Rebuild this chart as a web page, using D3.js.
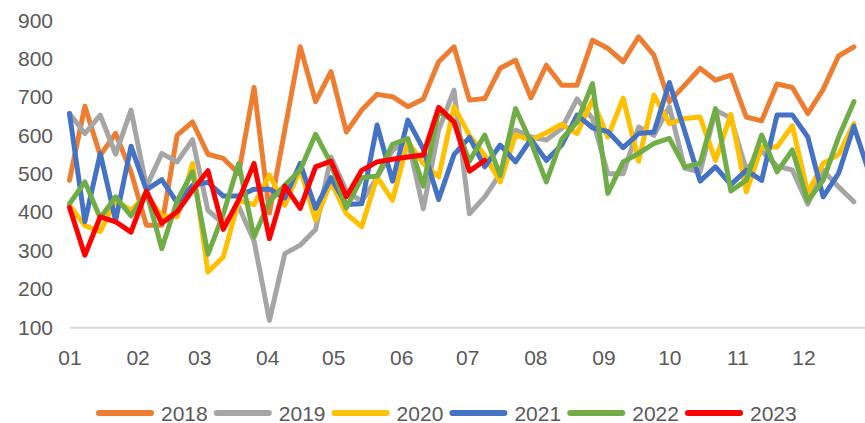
<!DOCTYPE html>
<html>
<head>
<meta charset="utf-8">
<script src="https://cdn.jsdelivr.net/npm/d3@7"></script>
<style>
    body { margin: 0; background: #fff; }
    text { font-family: "Liberation Sans", Arial, sans-serif; fill: #595959; }
</style>
</head>
<body>
<div id="chart"></div>
<script>
    var years = ['2018', '2019', '2020', '2021', '2022', '2023'];
    var colors = ['#ED7D31', '#A5A5A5', '#FFC000', '#4472C4', '#70AD47', '#FF0000'];
    var monthLabels = ['01', '02', '03', '04', '05', '06', '07', '08', '09', '10', '11', '12'];
    var monthStartDays = [0, 31, 59, 90, 120, 151, 181, 212, 243, 273, 304, 334];
    var yTicks = [100, 200, 300, 400, 500, 600, 700, 800, 900];

    // weekly values, one per week from the start of the year
    var s2018 = [483, 676, 548, 605, 505, 366, 366, 601, 635, 551, 540, 501, 725, 398, 615, 831, 688, 766, 609, 666,
        707, 701, 675, 695, 792, 831, 692, 696, 775, 796, 698, 783, 731, 731, 848, 827, 792, 857, 809, 688,
        731, 775, 744, 757, 648, 638, 734, 725, 657, 720, 807, 831];
    var s2019 = [657, 605, 653, 551, 666, 466, 553, 531, 589, 405, 370, 415, 325, 118, 292, 314, 355, 544, 455, 428,
        490, 561, 588, 409, 614, 718, 396, 440, 500, 614, 596, 588, 618, 695, 644, 500, 500, 622, 600, 675,
        514, 505, 666, 645, 510, 560, 520, 510, 421, 509, 466, 427];
    var s2020 = [418, 365, 350, 430, 405, 445, 390, 388, 527, 244, 283, 430, 420, 497, 418, 512, 379, 479, 396, 362,
        492, 431, 583, 527, 492, 675, 600, 548, 479, 601, 588, 607, 629, 605, 692, 596, 697, 533, 705, 631,
        644, 648, 535, 655, 453, 570, 570, 625, 450, 527, 550, 631];
    var s2021 = [657, 375, 553, 378, 572, 458, 485, 425, 470, 478, 442, 442, 460, 460, 437, 527, 410, 490, 420, 422,
        627, 481, 640, 565, 433, 550, 595, 518, 575, 531, 590, 535, 575, 653, 620, 610, 568, 605, 609, 738,
        611, 481, 518, 472, 509, 483, 653, 653, 596, 440, 501, 624, 501];
    var s2022 = [422, 479, 385, 440, 390, 453, 305, 430, 505, 290, 395, 527, 336, 428, 470, 510, 603, 527, 411, 490,
        494, 577, 592, 468, 664, 636, 533, 601, 496, 670, 583, 479, 590, 635, 735, 449, 531, 553, 579, 592,
        518, 527, 670, 455, 483, 601, 505, 562, 429, 483, 595, 688];
    var s2023 = [412, 288, 388, 375, 348, 455, 371, 401, 457, 508, 355, 432, 527, 331, 468, 410, 518, 533, 440, 509,
        531, 538, 544, 549, 673, 635, 507, 535];

    var series = [s2018, s2019, s2020, s2021, s2022, s2023];

    var width = 865;
    var height = 423;

    var x = d3.scaleLinear().domain([0, 365]).range([69.5, 871.5]);
    var y = d3.scaleLinear().domain([100, 900]).range([327.3, 20.3]);

    var svg = d3.select("#chart")
        .append("svg")
        .attr("width", width)
        .attr("height", height);

    // x axis (date-like, ticks at month starts)
    var gX = svg.append("g")
        .attr("transform", "translate(0," + y(100) + ")")
        .call(d3.axisBottom(x)
            .tickValues(monthStartDays)
            .tickFormat(function (d, i) { return monthLabels[i]; })
            .tickSize(0)
            .tickPadding(23));
    gX.select(".domain").attr("stroke", "#d9d9d9").attr("stroke-width", 2);
    gX.selectAll("text").attr("font-size", 21).attr("fill", "#595959");

    // y axis labels only
    var gY = svg.append("g")
        .attr("transform", "translate(53,0)")
        .call(d3.axisLeft(y).tickValues(yTicks).tickSize(0).tickPadding(0));
    gY.select(".domain").remove();
    gY.selectAll("text").attr("font-size", 21).attr("fill", "#595959");

    var line = d3.line()
        .x(function (d, i) { return x(i * 7); })
        .y(function (d) { return y(d); });

    svg.selectAll(".series")
        .data(series)
        .enter()
        .append("path")
        .attr("class", "series")
        .attr("d", line)
        .attr("fill", "none")
        .attr("stroke", function (d, i) { return colors[i]; })
        .attr("stroke-width", 5)
        .attr("stroke-linejoin", "round")
        .attr("stroke-linecap", "round");

    // legend
    var legend = svg.selectAll(".legend")
        .data(years)
        .enter()
        .append("g")
        .attr("class", "legend")
        .attr("transform", function (d, i) { return "translate(" + (96 + i * 117.8) + ",413)"; });

    legend.append("line")
        .attr("x1", 3)
        .attr("x2", 55)
        .attr("stroke", function (d, i) { return colors[i]; })
        .attr("stroke-width", 6)
        .attr("stroke-linecap", "round");

    legend.append("text")
        .attr("x", 65)
        .attr("y", 7.5)
        .attr("font-size", 21)
        .text(function (d) { return d; });
</script>
</body>
</html>
